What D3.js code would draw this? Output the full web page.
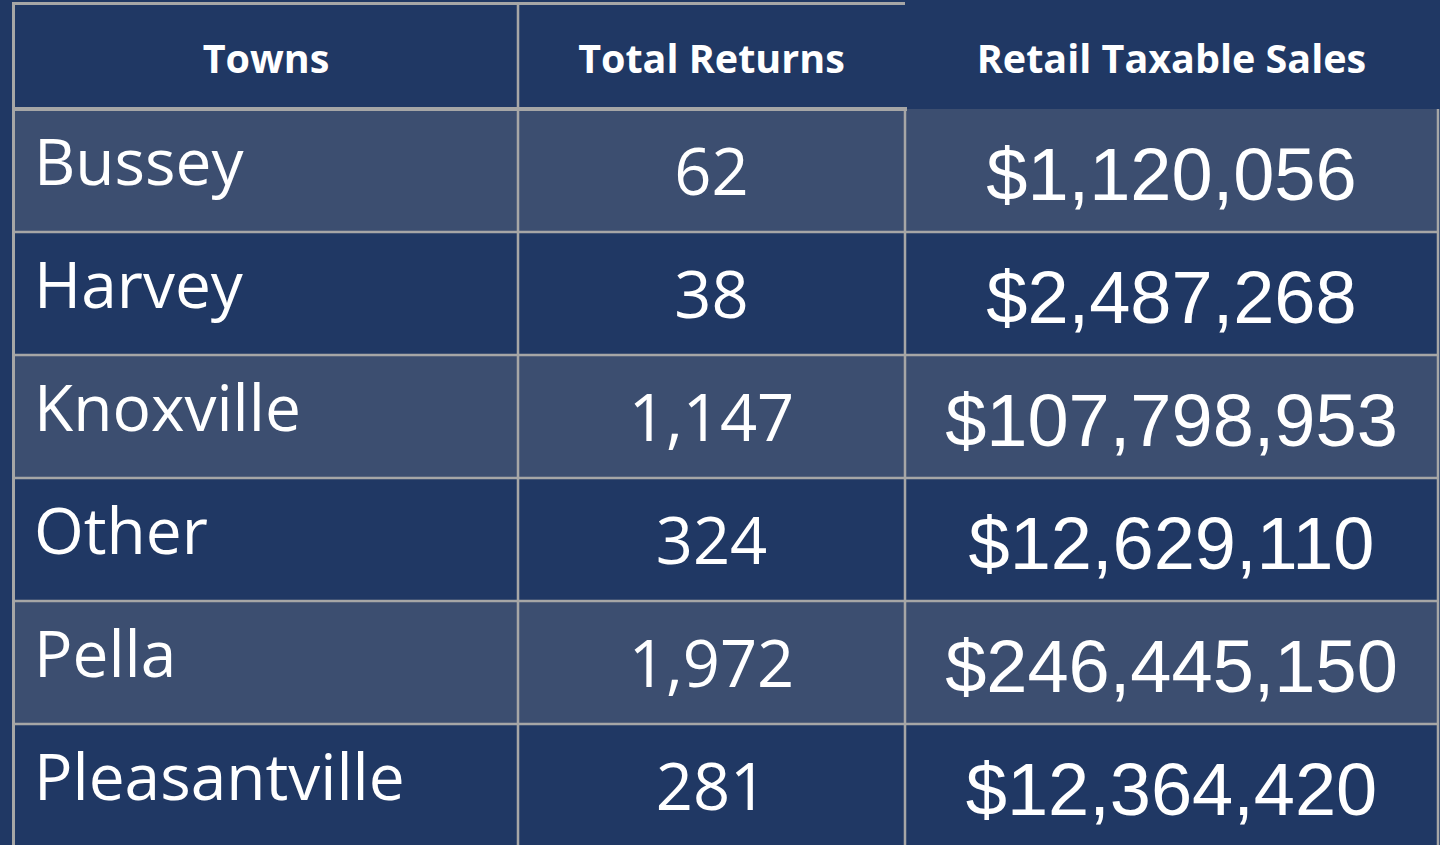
<!DOCTYPE html>
<html>
<head>
<meta charset="utf-8">
<script src="https://cdn.jsdelivr.net/npm/d3@7"></script>
<style>
  html, body { margin: 0; padding: 0; background: #203864; overflow: hidden; }
  svg { display: block; }
</style>
</head>
<body>
<svg id="chart" width="1440" height="845"></svg>
<script>
// ---- data ----
const headers = ["Towns", "Total Returns", "Retail Taxable Sales"];
const towns = ["Bussey", "Harvey", "Knoxville", "Other", "Pella", "Pleasantville"];
const totalReturns = [62, 38, 1147, 324, 1972, 281];
const retailTaxableSales = [1120056, 2487268, 107798953, 12629110, 246445150, 12364420];

// ---- layout ----
const W = 1440, H = 845;
const colors = { dark: "#203864", light: "#3c4e70", grid: "#a6a6a6", text: "#ffffff" };
const colEdges = [14, 518, 905, 1438];
const headerTop = 4, headerBottom = 109;
const rowH = 123;

const svg = d3.select("#chart");

const y = d3.scaleBand()
  .domain(towns)
  .range([headerBottom, headerBottom + rowH * towns.length])
  .padding(0);

const colX = i => colEdges[i];
const colMid = i => (colEdges[i] + colEdges[i + 1]) / 2;

const fmtInt = d3.format(",");
const fmtMoney = d => "$" + d3.format(",")(d);

const rows = towns.map((t, i) => ({ town: t, returns: totalReturns[i], sales: retailTaxableSales[i], i }));

// background
svg.append("rect").attr("width", W).attr("height", H).attr("fill", colors.dark);

// row fills
svg.selectAll("rect.row")
  .data(rows)
  .join("rect")
  .attr("class", "row")
  .attr("x", colX(0))
  .attr("y", d => y(d.town))
  .attr("width", colEdges[3] - colEdges[0])
  .attr("height", y.bandwidth())
  .attr("fill", d => d.i % 2 === 0 ? colors.light : colors.dark);

// grid lines
const g = svg.append("g").attr("stroke", colors.grid).attr("fill", "none");
g.append("line").attr("x1", colX(0) - 1.5).attr("x2", colX(2)).attr("y1", 3.5).attr("y2", 3.5).attr("stroke-width", 3);
g.append("line").attr("x1", 13.5).attr("x2", 13.5).attr("y1", 2).attr("y2", H).attr("stroke-width", 3);
g.append("line").attr("x1", colX(0)).attr("x2", colX(2) + 2).attr("y1", headerBottom).attr("y2", headerBottom).attr("stroke-width", 4);
g.append("line").attr("x1", colX(1)).attr("x2", colX(1)).attr("y1", 2).attr("y2", H).attr("stroke-width", 2.5);
g.append("line").attr("x1", colX(2)).attr("x2", colX(2)).attr("y1", headerBottom - 2).attr("y2", H).attr("stroke-width", 2.5);
g.append("line").attr("x1", colX(3)).attr("x2", colX(3)).attr("y1", headerBottom).attr("y2", H).attr("stroke-width", 2.5);
g.selectAll("line.rowsep")
  .data(towns.slice(1))
  .join("line")
  .attr("class", "rowsep")
  .attr("x1", colX(0)).attr("x2", colX(3))
  .attr("y1", d => y(d)).attr("y2", d => y(d))
  .attr("stroke-width", 2.5);

// header text
svg.selectAll("text.header")
  .data(headers)
  .join("text")
  .attr("class", "header")
  .attr("x", (d, i) => colMid(i))
  .attr("y", 73)
  .attr("text-anchor", "middle")
  .attr("fill", colors.text)
  .attr("font-family", "'Open Sans', sans-serif")
  .attr("font-weight", 700)
  .attr("font-size", 39.5)
  .text(d => d);

// body text
const body = svg.append("g").attr("fill", colors.text);
body.selectAll("text.town")
  .data(rows)
  .join("text")
  .attr("class", "town")
  .attr("x", 34)
  .attr("y", d => y(d.town) + 76)
  .attr("font-family", "'Open Sans', sans-serif")
  .attr("font-size", 64)
  .text(d => d.town);

body.selectAll("text.returns")
  .data(rows)
  .join("text")
  .attr("class", "returns")
  .attr("x", colMid(1))
  .attr("y", d => y(d.town) + 86)
  .attr("text-anchor", "middle")
  .attr("font-family", "'Open Sans', sans-serif")
  .attr("font-size", 65)
  .text(d => fmtInt(d.returns));

body.selectAll("text.sales")
  .data(rows)
  .join("text")
  .attr("class", "sales")
  .attr("x", colMid(2))
  .attr("y", d => y(d.town) + 91)
  .attr("text-anchor", "middle")
  .attr("font-family", "'Liberation Sans', Arial, sans-serif")
  .attr("font-size", 74)
  .text(d => fmtMoney(d.sales));
</script>
</body>
</html>
